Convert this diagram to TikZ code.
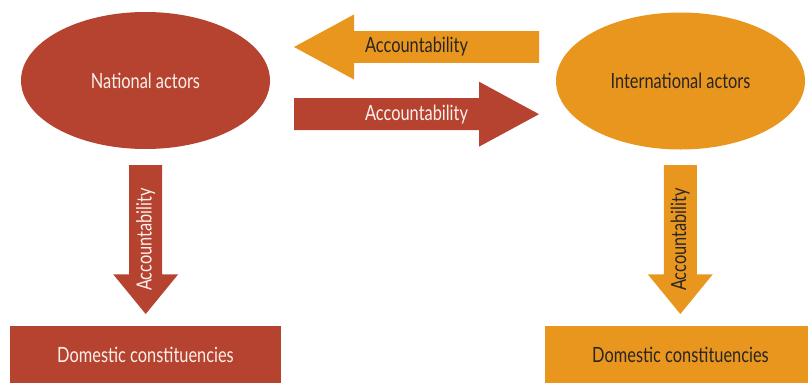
\documentclass[tikz,border=0pt]{standalone}
\usepackage{fontspec}
\setmainfont{Lato}[FakeStretch=0.78]
\usetikzlibrary{shapes.geometric}

\definecolor{natred}{RGB}{181,67,47}
\definecolor{intorange}{RGB}{232,150,30}
\definecolor{darktext}{RGB}{42,37,34}
\definecolor{lighttext}{RGB}{252,240,236}

\tikzset{
  actor/.style={ellipse, minimum width=249pt, minimum height=137pt, inner sep=0pt},
  constbox/.style={rectangle, minimum width=271pt, minimum height=57pt, inner sep=0pt},
  arrowtext/.style={inner sep=0pt},
  redfill/.style={fill=natred, text=lighttext},
  orangefill/.style={fill=intorange, text=darktext}
}

\begin{document}
\begin{tikzpicture}[x=1pt, y=-1pt, font=\fontsize{21}{23}\selectfont]
  \path[use as bounding box, clip] (0,0) rectangle (808,383);

  % actors
  \node[actor, redfill] (national) at (145.5,80.5) {National actors};
  \node[actor, orangefill] (international) at (680.5,81) {International actors};

  % accountability between actors
  \fill[intorange] (294,47) -- (354,14.5) -- (354,31.2) -- (539,31.2)
    -- (539,62.8) -- (354,62.8) -- (354,79.5) -- cycle;
  \node[arrowtext, text=darktext] (toNational) at (416.5,47) {Accountability};
  \fill[natred] (539,114.2) -- (479,81.7) -- (479,98.2) -- (294,98.2)
    -- (294,130.2) -- (479,130.2) -- (479,146.7) -- cycle;
  \node[arrowtext, text=lighttext] (toInternational) at (416.5,114.2) {Accountability};

  % downward accountability
  \foreach \cx/\col/\txt/\nm in {145.7/natred/lighttext/downLeft, 680.3/intorange/darktext/downRight}{
    \fill[\col] (\cx,314) -- (\cx-32.5,274.3) -- (\cx-16.5,274.3) -- (\cx-16.5,165)
      -- (\cx+16.5,165) -- (\cx+16.5,274.3) -- (\cx+32.5,274.3) -- cycle;
    \node[arrowtext, text=\txt, rotate=90] (\nm) at (\cx,239.5) {Accountability};
  }

  % constituencies
  \node[constbox, redfill] (domLeft) at (145.5,354.5) {Domestic constituencies};
  \node[constbox, orangefill] (domRight) at (680.5,354.5) {Domestic constituencies};
\end{tikzpicture}
\end{document}
